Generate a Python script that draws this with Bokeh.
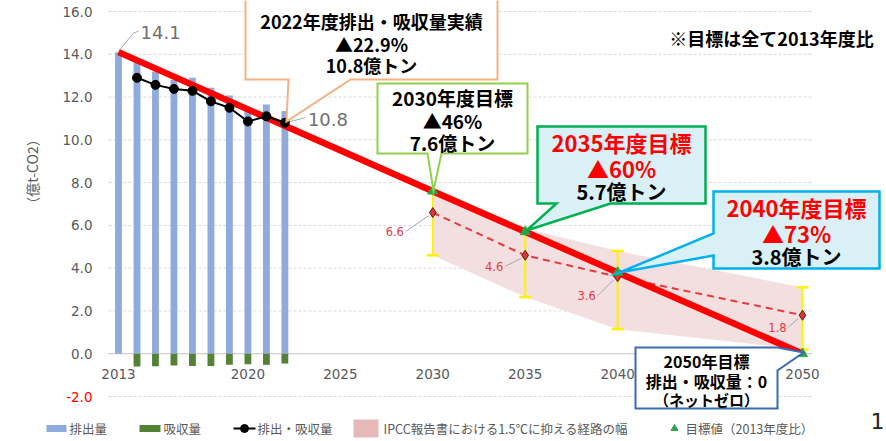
import math
from bokeh.plotting import figure
from bokeh.models import Range1d
from bokeh.core.properties import value
from bokeh.embed import file_html
from bokeh.resources import INLINE

# ---------------- data ----------------
hist_years = [2013, 2014, 2015, 2016, 2017, 2018, 2019, 2020, 2021, 2022]
emissions = [14.1, 13.63, 13.2, 12.8, 12.9, 12.43, 12.07, 11.5, 11.65, 11.35]
removals = [0.0, -0.60, -0.59, -0.55, -0.57, -0.57, -0.52, -0.49, -0.52, -0.46]
net_years = [2014, 2015, 2016, 2017, 2018, 2019, 2020, 2021, 2022]
net_values = [12.9, 12.57, 12.38, 12.29, 11.8, 11.5, 10.86, 11.1, 10.8]
target_years = [2013, 2030, 2035, 2040, 2050]
target_values = [14.1, 7.6, 5.7, 3.8, 0.0]
ipcc_years = [2030, 2035, 2040, 2050]
ipcc_mid = [6.6, 4.6, 3.6, 1.8]
ipcc_high = [7.6, 5.85, 4.8, 3.1]
ipcc_low = [4.6, 2.65, 1.15, 0.2]
y_ticks = [-2, 0, 2, 4, 6, 8, 10, 12, 14, 16]
x_ticks = [2013, 2020, 2025, 2030, 2035, 2040, 2045, 2050]
y_axis_title = "（億t-CO2）"
note_text = "※目標は全て2013年度比"
legend_labels = ["排出量", "吸収量", "排出・吸収量",
                 "IPCC報告書における1.5℃に抑える経路の幅", "目標値（2013年度比）"]
callout_2022 = ["2022年度排出・吸収量実績", "▲22.9%", "10.8億トン"]
callout_2030 = ["2030年度目標", "▲46%", "7.6億トン"]
callout_2035 = ["2035年度目標", "▲60%", "5.7億トン"]
callout_2040 = ["2040年度目標", "▲73%", "3.8億トン"]
callout_2050 = ["2050年目標", "排出・吸収量：0", "（ネットゼロ）"]
page_number = "1"

# ---------------- layout ----------------
W, H = 886, 441
PXX = (802 - 118) / 37.0
PXY = (396 - 11) / 18.0
X0 = 2013 - 118 / PXX
X1 = X0 + W / PXX
Y1 = 16 + 11 / PXY
Y0 = Y1 - H / PXY


def fx(px):
    return X0 + px / PXX


def fy(py):
    return Y1 - py / PXY


CJK = "Noto Sans CJK JP"
NUM = "DejaVu Sans"
GRAY = "#595959"

p = figure(width=W, height=H, x_range=Range1d(X0, X1), y_range=Range1d(Y0, Y1),
           x_axis_type=None, y_axis_type=None, toolbar_location=None,
           output_backend="svg", min_border=0, outline_line_color=None,
           background_fill_color="white", border_fill_color="white")


def txt(xs, ys, texts, size, color, font=CJK, bold=False, align="center",
        baseline="middle", angle=0.0, x_offset=0, y_offset=0):
    p.text(x=xs, y=ys, text=texts, text_font=value(font), text_font_size=size,
           text_font_style="bold" if bold else "normal", text_color=color,
           text_align=align, text_baseline=baseline, angle=angle,
           x_offset=x_offset, y_offset=y_offset)


# gridlines
gx0, gx1 = fx(108), fx(812)
dashed = [t for t in y_ticks if t != 0]
p.segment(x0=[gx0] * len(dashed), y0=dashed, x1=[gx1] * len(dashed), y1=dashed,
          line_color="#D9D9D9", line_width=1, line_dash="3 2")
p.segment(x0=[gx0], y0=[0], x1=[gx1], y1=[0], line_color="#D0D0D0", line_width=1.2)

# IPCC band
p.varea(x=ipcc_years, y1=ipcc_low, y2=ipcc_high, fill_color="#F2DCDB", fill_alpha=0.9)

# bars
p.vbar(x=hist_years, top=emissions, bottom=0, width=0.37, fill_color="#8FAADC", line_color=None)
p.vbar(x=hist_years, top=0, bottom=removals, width=0.37, fill_color="#548235", line_color=None)

# error bars
p.segment(x0=ipcc_years, y0=ipcc_low, x1=ipcc_years, y1=ipcc_high, line_color="#FFF200", line_width=2)
p.scatter(x=ipcc_years + ipcc_years, y=ipcc_low + ipcc_high, marker="dash", size=12,
          line_color="#FFF200", line_width=2.5)

# IPCC midline
p.line(ipcc_years, ipcc_mid, line_color="#E8383D", line_width=2, line_dash="7 5")
p.scatter(ipcc_years, ipcc_mid, marker="diamond", size=10, fill_color="#D93A2B", line_color="#5A1A10")

# target pathway
p.line(target_years, target_values, line_color="#FF0000", line_width=6.5)

# net line
p.line(net_years, net_values, line_color="black", line_width=2)
p.scatter(net_years, net_values, marker="circle", size=9, fill_color="black", line_color="black")

# target triangles
p.scatter(target_years[1:], target_values[1:], marker="triangle", size=10,
          fill_color="#2EA24A", line_color="#2EA24A")

# tick labels
txt([fx(92)] * len(y_ticks), y_ticks, [f"{t:.1f}" for t in y_ticks], "13.5px",
    ["#FF0000" if t < 0 else GRAY for t in y_ticks], font=NUM, align="right")
txt(x_ticks, [fy(373)] * len(x_ticks), [str(t) for t in x_ticks], "13.5px", GRAY, font=NUM)
txt([fx(31.5)], [fy(171)], [y_axis_title], "14px", GRAY, angle=math.pi / 2)


# value labels with leader lines
def leader(x, y, pts):
    p.line([x + dx / PXX for dx, dy in pts], [y - dy / PXY for dx, dy in pts],
           line_color="#A6A6A6", line_width=1)


leader(target_years[0], target_values[0], [(0, -1), (15, -19), (20, -21)])
txt([target_years[0]], [target_values[0]], [f"{target_values[0]:.1f}"], "18px", "#707070",
    font=NUM, align="left", x_offset=22, y_offset=-20)
leader(net_years[-1], net_values[-1], [(5, -1), (20, -5)])
txt([net_years[-1]], [net_values[-1]], [f"{net_values[-1]:.1f}"], "18px", "#707070",
    font=NUM, align="left", x_offset=23, y_offset=-3)

mid_offsets = [(-38, 19), (-31, 11), (-31, 19), (-25, 12)]
for yr, v, (ox, oy) in zip(ipcc_years, ipcc_mid, mid_offsets):
    leader(yr, v, [(ox + 11, oy), (-4, 3)])
    txt([yr], [v], [f"{v:.1f}"], "11.5px", "#E8383D", font=NUM, x_offset=ox, y_offset=oy)


# callouts
def callout(pts, fill, line, lw, lines, cx):
    p.patch([fx(a) for a, b in pts], [fy(b) for a, b in pts], fill_color=fill,
            line_color=line, line_width=lw, line_join="miter")
    for t, py, size, color in lines:
        txt([fx(cx)], [fy(py)], [t], size, color, bold=True)


callout([(245, -4), (497, -4), (497, 79), (350, 79), (286, 121), (288, 79), (245, 79)],
        "white", "#F4B183", 2,
        [(callout_2022[0], 20, "18px", "black"), (callout_2022[1], 43, "18px", "black"),
         (callout_2022[2], 64, "18px", "black")], 371)
callout([(377, 83), (527, 83), (527, 153), (441, 153), (433, 190), (427, 153), (377, 153)],
        "white", "#92D050", 2,
        [(callout_2030[0], 97, "19px", "black"), (callout_2030[1], 120, "19px", "black"),
         (callout_2030[2], 142, "19px", "black")], 452)
callout([(537, 126), (705, 126), (705, 203), (610, 203), (526, 230), (556, 203), (537, 203)],
        "#DAF0F7", "#00B050", 2.5,
        [(callout_2035[0], 141, "22px", "#FF0000"), (callout_2035[1], 167, "22px", "#FF0000"),
         (callout_2035[2], 191, "20px", "black")], 621)
callout([(713, 191), (879, 191), (879, 268), (713, 268), (713, 255), (619, 272), (713, 233)],
        "#DAF0F7", "#00B0F0", 2.5,
        [(callout_2040[0], 206, "22px", "#FF0000"), (callout_2040[1], 232, "22px", "#FF0000"),
         (callout_2040[2], 256, "20px", "black")], 796)
callout([(635, 347), (777, 347), (803, 352), (777, 370), (777, 408), (635, 408)],
        "white", "#3A6BB5", 2,
        [(callout_2050[0], 360, "16px", "black"), (callout_2050[1], 380, "16px", "black"),
         (callout_2050[2], 399, "15px", "black")], 706)

# note
txt([fx(771)], [fy(37)], [note_text], "18px", "black", bold=True)

# legend
LY = 428
p.quad(left=[fx(46)], right=[fx(66)], top=[fy(424.5)], bottom=[fy(431.5)], fill_color="#8FAADC", line_color=None)
p.quad(left=[fx(139)], right=[fx(160)], top=[fy(424.5)], bottom=[fy(431.5)], fill_color="#548235", line_color=None)
p.line([fx(233), fx(255)], [fy(LY), fy(LY)], line_color="black", line_width=2)
p.scatter([fx(244)], [fy(LY)], marker="circle", size=8, fill_color="black", line_color="black")
p.quad(left=[fx(353)], right=[fx(378)], top=[fy(419)], bottom=[fy(437)], fill_color="#E6B9B8", line_color=None)
p.scatter([fx(674)], [fy(LY)], marker="triangle", size=7, fill_color="#2EA24A", line_color="#2EA24A")
txt([fx(69), fx(163), fx(257), fx(383), fx(685)], [fy(LY)] * 5, legend_labels, "12.5px", GRAY, align="left")

# page number
txt([fx(884)], [fy(420)], [page_number], "22px", "#222222", font=NUM, align="right")

open("out.html", "w").write(file_html(p, INLINE))
